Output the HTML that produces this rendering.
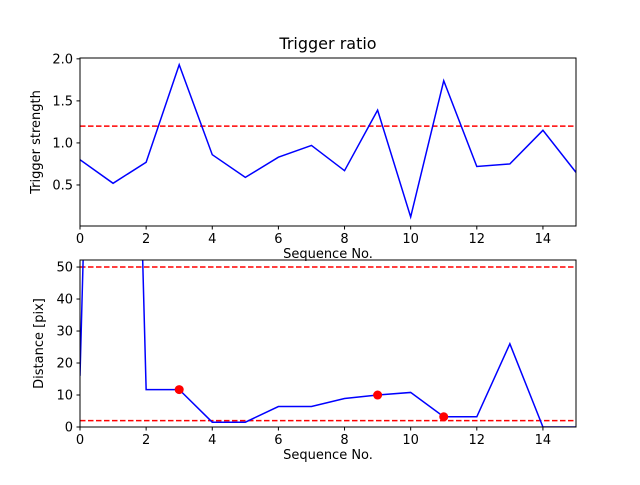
<!DOCTYPE html>
<html><head><meta charset="utf-8"><style>
body{margin:0;background:#fff;}
svg text{font-family:"DejaVu Sans","Liberation Sans",sans-serif;fill:#000;}
</style></head><body>
<svg id="fig" width="640" height="480" xmlns="http://www.w3.org/2000/svg"></svg>
<script>
const xs = [0,1,2,3,4,5,6,7,8,9,10,11,12,13,14,15];
const ratio = [0.8,0.52,0.77,1.93,0.86,0.59,0.83,0.97,0.67,1.39,0.12,1.74,0.72,0.75,1.15,0.65];
const ratioThreshold = 1.2;
const distance = [16,400,11.7,11.7,1.5,1.5,6.4,6.4,8.9,10,10.8,3.2,3.2,26,0,0];
const distThresholds = [50,2];
const markedIdx = [3,9,11];
const xTicks = [0,2,4,6,8,10,12,14];
const yTicksTop = [0.5,1.0,1.5,2.0];
const yTicksBot = [0,10,20,30,40,50];

const NS="http://www.w3.org/2000/svg";
const svg=document.getElementById('fig');
function mk(tag,attrs,parent){const e=document.createElementNS(NS,tag);for(const k in attrs)e.setAttribute(k,attrs[k]);(parent||svg).appendChild(e);return e;}

function panel(o){
  const g=mk('g',{});
  
  
  const X=v=>o.x0+(v-o.xmin)/(o.xmax-o.xmin)*(o.x1-o.x0);
  const Y=v=>o.y1-(v-o.ymin)/(o.ymax-o.ymin)*(o.y1-o.y0);
  const cid='clip'+o.name;
  const cp=mk('clipPath',{id:cid},g);mk('rect',{x:o.x0,y:o.y0,width:o.x1-o.x0,height:o.y1-o.y0},cp);
  const pg=mk('g',{'clip-path':'url(#'+cid+')'},g);
  o.thr.forEach(t=>{const l=mk('line',{x1:o.x0,x2:o.x1,y1:Y(t),y2:Y(t),stroke:'#ff0000','stroke-width':1.5,'stroke-dasharray':'5.5,2.5'},pg);
    
    });
  const p=mk('polyline',{points:xs.map((x,i)=>X(x)+','+Y(o.data[i])).join(' '),fill:'none',stroke:'#0000ff','stroke-width':1.5},pg);
  
  
  (o.marks||[]).forEach(i=>{const c=mk('circle',{cx:X(xs[i]),cy:Y(o.data[i]),r:4.5,fill:'#ff0000'},g);
    
    });
  const fr=mk('rect',{x:o.x0,y:o.y0,width:o.x1-o.x0,height:o.y1-o.y0,fill:'none',stroke:'#000','stroke-width':1},g);
  
  
  xTicks.forEach(t=>{mk('line',{x1:X(t),x2:X(t),y1:o.y1,y2:o.y1+3.5,stroke:'#000'},g);
    const tx=mk('text',{x:X(t),y:o.y1+17,'font-size':13,'text-anchor':'middle'},g);tx.textContent=t;
    
    });
  o.yt.forEach(t=>{mk('line',{x1:o.x0-3.5,x2:o.x0,y1:Y(t),y2:Y(t),stroke:'#000'},g);
    const tx=mk('text',{x:o.x0-7,y:Y(t)+4.5,'font-size':13,'text-anchor':'end'},g);tx.textContent=o.fmt(t);
    
    });
  const xl=mk('text',{x:(o.x0+o.x1)/2,y:o.y1+32,'font-size':13,'text-anchor':'middle'},g);xl.textContent='Sequence No.';
  
  
  const yl=mk('text',{x:0,y:0,'font-size':13,'text-anchor':'middle',transform:`translate(${o.ylx},${(o.y0+o.y1)/2}) rotate(-90)`},g);yl.textContent=o.ylabel;
  
  
  if(o.title){const tt=mk('text',{x:(o.x0+o.x1)/2,y:o.y0-9,'font-size':16,'text-anchor':'middle'},g);tt.textContent=o.title;
    
    }
}
panel({name:'top-panel',x0:80,x1:576,y0:58,y1:226,xmin:0,xmax:15,ymin:0.012,ymax:2.01,data:ratio,thr:[ratioThreshold],yt:yTicksTop,fmt:t=>t.toFixed(1),ylabel:'Trigger strength',ylx:40,title:'Trigger ratio'});
panel({name:'bottom-panel',x0:80,x1:576,y0:260,y1:427,xmin:0,xmax:15,ymin:0,ymax:52.2,data:distance,thr:distThresholds,marks:markedIdx,yt:yTicksBot,fmt:t=>String(t),ylabel:'Distance [pix]',ylx:43});
</script>
</body></html>
